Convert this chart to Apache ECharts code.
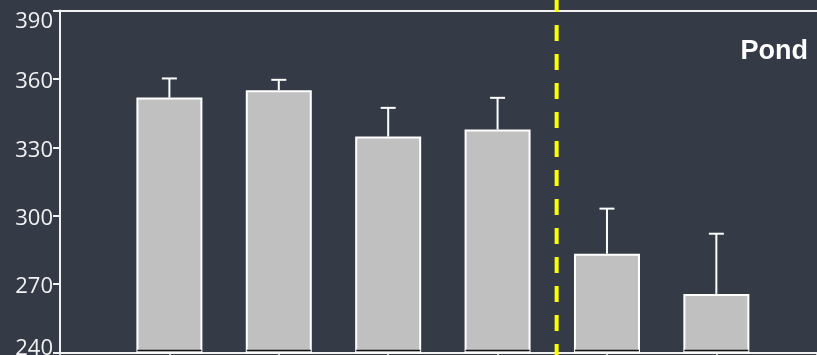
<!DOCTYPE html>
<html>
<head>
<meta charset="utf-8">
<style>
  html, body { margin: 0; padding: 0; background: #343a46; }
  #chart { width: 817px; height: 355px; }
</style>
<script src="https://cdn.jsdelivr.net/npm/echarts@6/dist/echarts.min.js"></script>
</head>
<body>
<div id="chart"></div>
<script>
// Group positions along the x axis (slot 0 sits on the y axis)
const groupPositions = [1, 2, 3, 4, 5, 6];
// Mean values per group
const meanValues = [351.8, 355.0, 334.7, 337.8, 283.3, 265.7];
// Upper error (SD/SE) per group
const upperErrors = [8.4, 4.6, 12.6, 13.9, 19.8, 26.4];
// Y axis tick values
const yTicks = [240, 270, 300, 330, 360, 390];
// Position of the dashed separator between the two treatment sets
const separatorAt = 4.54;
// Visible end of the x range (the plot runs off the right edge)
const xEnd = 6.92;
const panelTitle = 'Pond';

const BG = '#343a46';
const FG = '#f2f2f2';

const chart = echarts.init(document.getElementById('chart'), null, { renderer: 'canvas' });

const yMin = yTicks[0];
const yMax = yTicks[yTicks.length - 1];

chart.setOption({
  backgroundColor: BG,
  animation: false,
  grid: { left: 60, top: 10.5, bottom: 2.5, right: 0, containLabel: false, outerBoundsMode: 'none' },
  xAxis: [
    {
      type: 'value', min: 0, max: xEnd, interval: 1, position: 'bottom',
      axisLine: { show: true, lineStyle: { color: FG, width: 2 } },
      axisTick: { show: true, length: 4, lineStyle: { color: FG, width: 1.5 } },
      axisLabel: { show: false },
      splitLine: { show: false }
    },
    {
      type: 'value', min: 0, max: xEnd, position: 'top',
      axisLine: { show: true, lineStyle: { color: FG, width: 2 } },
      axisTick: { show: false }, axisLabel: { show: false }, splitLine: { show: false }
    }
  ],
  yAxis: {
    type: 'value', min: yMin, max: yMax, interval: 30,
    axisLine: { show: true, lineStyle: { color: FG, width: 2 } },
    axisTick: { show: true, inside: false, length: 7, lineStyle: { color: FG, width: 2 } },
    splitLine: { show: false },
    axisLabel: {
      margin: 7,
      color: FG,
      fontFamily: 'Open Sans',
      fontSize: 22,
      formatter: function (v) {
        if (v === yMax) return '{top|' + v + '}';
        if (v === yMin) return '{bot|' + v + '}';
        return '{mid|' + v + '}';
      },
      rich: {
        top: { color: FG, fontFamily: 'Open Sans', fontSize: 22, padding: [22, 0, 0, 0] },
        mid: { color: FG, fontFamily: 'Open Sans', fontSize: 22, padding: [6, 0, 0, 0] },
        bot: { color: FG, fontFamily: 'Open Sans', fontSize: 22, padding: [0, 0, 8, 0] }
      }
    }
  },
  series: [
    {
      type: 'bar',
      barWidth: 66,
      data: groupPositions.map((x, i) => [x, meanValues[i]]),
      itemStyle: { color: '#c0c0c0', borderColor: '#ffffff', borderWidth: 2 },
      z: 2
    },
    {
      // upper error bars with caps
      type: 'custom',
      data: groupPositions.map((x, i) => [x, meanValues[i], upperErrors[i]]),
      renderItem: function (params, api) {
        const x = api.value(0);
        const top = api.value(1);
        const err = api.value(2);
        const p0 = api.coord([x, top]);
        const p1 = api.coord([x, top + err]);
        const style = { stroke: '#ffffff', lineWidth: 2 };
        return {
          type: 'group',
          children: [
            { type: 'line', shape: { x1: p0[0], y1: p0[1], x2: p1[0], y2: p1[1] }, style: style },
            { type: 'line', shape: { x1: p1[0] - 7.5, y1: p1[1], x2: p1[0] + 7.5, y2: p1[1] }, style: style }
          ]
        };
      },
      z: 3
    },
    {
      // dark base edge under each bar, just above the axis line
      type: 'custom',
      data: groupPositions.map((x) => [x, yMin]),
      renderItem: function (params, api) {
        const p = api.coord([api.value(0), api.value(1)]);
        return {
          type: 'line',
          shape: { x1: p[0] - 32, y1: p[1] - 2, x2: p[0] + 32, y2: p[1] - 2 },
          style: { stroke: '#111111', lineWidth: 1.5 }
        };
      },
      z: 4
    },
    {
      // dashed separator, running the full height of the canvas
      type: 'custom',
      clip: false,
      data: [[separatorAt, yMin]],
      renderItem: function (params, api) {
        const p = api.coord([api.value(0), api.value(1)]);
        return {
          type: 'line',
          shape: { x1: p[0], y1: -4, x2: p[0], y2: api.getHeight() },
          style: { stroke: '#ffff00', lineWidth: 4, lineDash: [16, 13] }
        };
      },
      z: 5
    }
  ],
  graphic: [
    {
      type: 'text',
      right: 9,
      top: 38,
      style: {
        text: panelTitle,
        fill: '#ffffff',
        font: 'bold 27px "Liberation Sans", Arial, sans-serif'
      }
    }
  ]
});
</script>
</body>
</html>
